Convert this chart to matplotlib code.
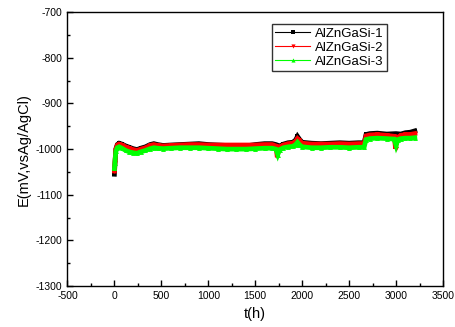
import matplotlib.pyplot as plt
from matplotlib.lines import Line2D
from matplotlib.ticker import MultipleLocator

plt.rcParams['font.family'] = ['Liberation Sans', 'DejaVu Sans']
plt.rcParams['axes.unicode_minus'] = False

# sample 1 (black)
t1 = [0, 5, 15, 30, 50, 80, 120, 160, 200, 240, 280, 330, 380, 420, 460, 520,
      600, 700, 800, 900, 1000, 1100, 1200, 1300, 1400, 1500, 1600, 1680, 1720,
      1760, 1800, 1850, 1900, 1930, 1950, 1970, 2000, 2100, 2200, 2300, 2400,
      2500, 2600, 2660, 2680, 2720, 2800, 2900, 3000, 3050, 3100, 3150, 3200]
e1 = [-1055, -1035, -1000, -990, -987, -989, -993, -996, -999, -1001, -998, -995,
      -990, -988, -990, -992, -991, -990, -989, -988, -990, -991, -992, -993,
      -993, -990, -988, -988, -990, -993, -989, -986, -985, -980, -972, -978,
      -985, -987, -988, -987, -986, -987, -986, -986, -968, -966, -965, -967,
      -966, -967, -964, -963, -960]

# sample 2 (red)
t2 = [0, 5, 15, 30, 50, 80, 120, 160, 200, 240, 280, 330, 380, 420, 460, 520,
      600, 700, 800, 900, 1000, 1100, 1200, 1300, 1400, 1500, 1600, 1680, 1720,
      1735, 1750, 1800, 1850, 1900, 1930, 1950, 1970, 2000, 2100, 2200, 2300,
      2400, 2500, 2600, 2660, 2680, 2720, 2800, 2900, 2980, 2995, 3010, 3050,
      3100, 3150, 3200]
e2 = [-1048, -1030, -1000, -992, -989, -991, -995, -998, -1001, -1003, -1000,
      -997, -992, -990, -992, -993, -992, -991, -990, -990, -991, -991, -991,
      -991, -991, -991, -990, -990, -993, -1018, -996, -991, -988, -987, -983,
      -977, -981, -987, -989, -989, -989, -988, -989, -988, -988, -971, -969,
      -968, -970, -972, -999, -975, -970, -968, -968, -966]

# sample 3 (green)
t3 = [0, 5, 15, 30, 50, 80, 120, 160, 200, 240, 280, 330, 380, 420, 460, 520,
      600, 700, 800, 900, 1000, 1100, 1200, 1300, 1400, 1500, 1600, 1680, 1720,
      1740, 1760, 1800, 1850, 1900, 1930, 1950, 1970, 2000, 2100, 2200, 2300,
      2400, 2500, 2600, 2660, 2680, 2720, 2800, 2900, 2980, 3000, 3020, 3050,
      3100, 3150, 3200]
e3 = [-1042, -1030, -1005, -997, -995, -998, -1003, -1006, -1008, -1009, -1006,
      -1003, -999, -997, -998, -999, -998, -997, -997, -997, -998, -999, -1000,
      -1000, -1000, -999, -998, -998, -1000, -1012, -1001, -997, -995, -994,
      -990, -985, -990, -995, -997, -997, -996, -996, -997, -996, -996, -979,
      -977, -976, -977, -978, -992, -979, -977, -976, -976, -975]

labels = ['AlZnGaSi-1', 'AlZnGaSi-2', 'AlZnGaSi-3']
colors = ['#000000', '#ff0000', '#00ff00']
markers = ['s', 'v', '^']

fig = plt.figure(figsize=(4.56, 3.27), dpi=100)
ax = fig.add_axes([0.148, 0.125, 0.8235, 0.838])

for t, e, c, m in zip([t1, t2, t3], [e1, e2, e3], colors, markers):
    ax.plot(t, e, color=c, lw=3.4, marker=m, ms=3.5, mew=0, solid_joinstyle='miter')

handles = [Line2D([], [], color=c, lw=0.8, marker=m, ms=3, mew=0)
           for c, m in zip(colors, markers)]
leg = ax.legend(handles, labels, loc='upper left', bbox_to_anchor=(0.545, 0.955),
                frameon=True, fancybox=False, edgecolor='black', fontsize=9.5,
                handlelength=2.6, handletextpad=0.4, labelspacing=0.12,
                borderpad=0.25, borderaxespad=0)
leg.get_frame().set_linewidth(1)

ax.set_xlim(-500, 3500)
ax.set_ylim(-1300, -700)
ax.xaxis.set_major_locator(MultipleLocator(500))
ax.xaxis.set_minor_locator(MultipleLocator(250))
ax.yaxis.set_major_locator(MultipleLocator(100))
ax.yaxis.set_minor_locator(MultipleLocator(50))
ax.tick_params(which='both', direction='in', top=False, right=False,
               labelsize=7.5, width=1)
ax.tick_params(which='major', length=4)
ax.tick_params(which='minor', length=2.5)
for s in ax.spines.values():
    s.set_linewidth(1)

ax.set_xlabel('t(h)', fontsize=10.5)
ax.set_ylabel('E(mV,vsAg/AgCl)', fontsize=10.5)

fig.savefig('out.png', dpi=100)
